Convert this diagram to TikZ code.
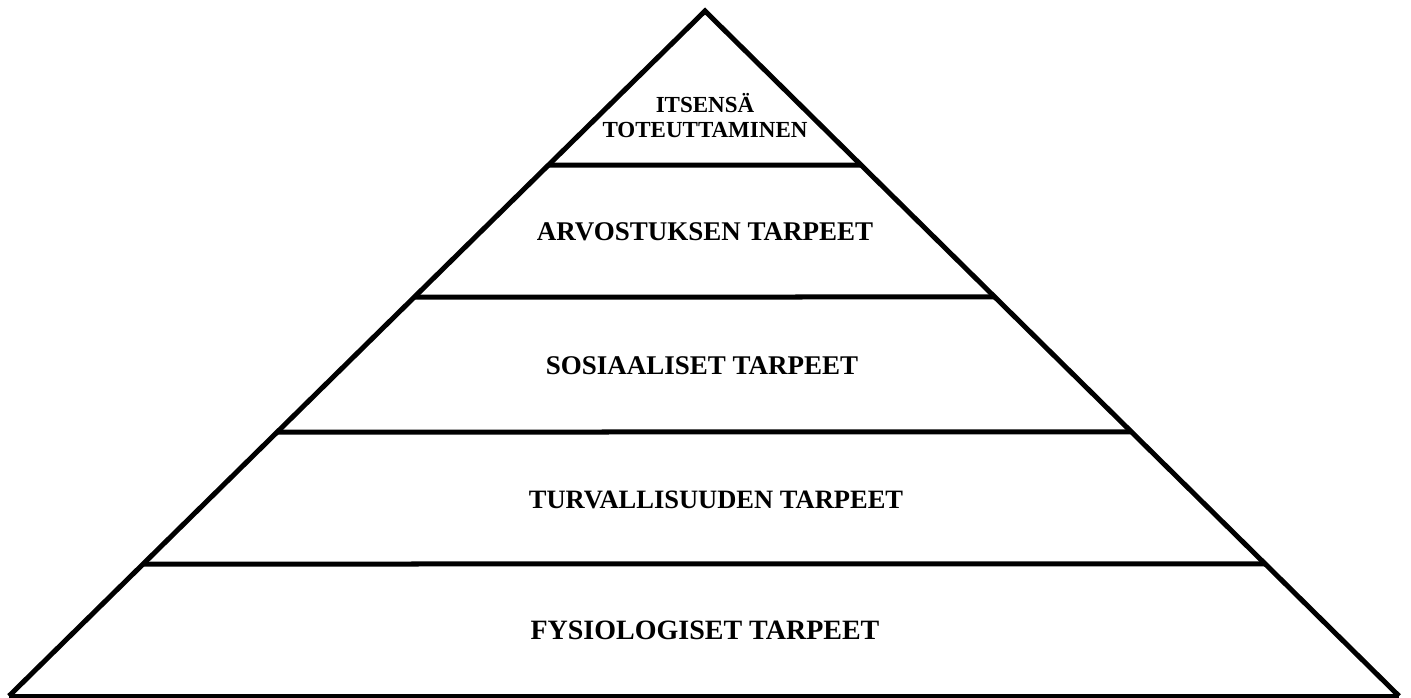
\documentclass[tikz,border=0pt]{standalone}
\usepackage{fontspec}
\setmainfont{Liberation Serif}
\begin{document}
\begin{tikzpicture}[x=1pt,y=-1pt,
  edge/.style={line width=5pt},
  lbl/.style={font=\bfseries\fontsize{27}{29}\selectfont, inner sep=0pt},
  toplbl/.style={font=\bfseries\fontsize{23}{25}\selectfont, inner sep=0pt, anchor=base}]
\useasboundingbox[fill=white] (0,0) rectangle (1411,697);
\coordinate (A) at (705,11);
\coordinate (BL) at (9,696);
\coordinate (BR) at (1399,696);
\foreach \n/\y in {1/165,2/297,3/432,4/564}{
  \coordinate (L\n) at (intersection of A--BL and 0,\y--1,\y);
  \coordinate (R\n) at (intersection of A--BR and 0,\y--1,\y);
}
\draw[edge] (BL) -- (A) -- (BR);
\draw[edge] (BL) -- (BR);
\foreach \n in {1,2,3,4}{ \draw[edge] (L\n) -- (R\n); }
\node[toplbl] (t5a) at (705,112) {ITSENSÄ};
\node[toplbl] (t5b) at (705,137) {TOTEUTTAMINEN};
\node[lbl] (t4) at (705,232) {ARVOSTUKSEN TARPEET};
\node[lbl] (t3) at (702,366) {SOSIAALISET TARPEET};
\node[lbl, font=\bfseries\fontsize{26.5}{29}\selectfont] (t2) at (716,500) {TURVALLISUUDEN TARPEET};
\node[lbl, font=\bfseries\fontsize{28}{30}\selectfont] (t1) at (705,630) {FYSIOLOGISET TARPEET};
\end{tikzpicture}
\end{document}
